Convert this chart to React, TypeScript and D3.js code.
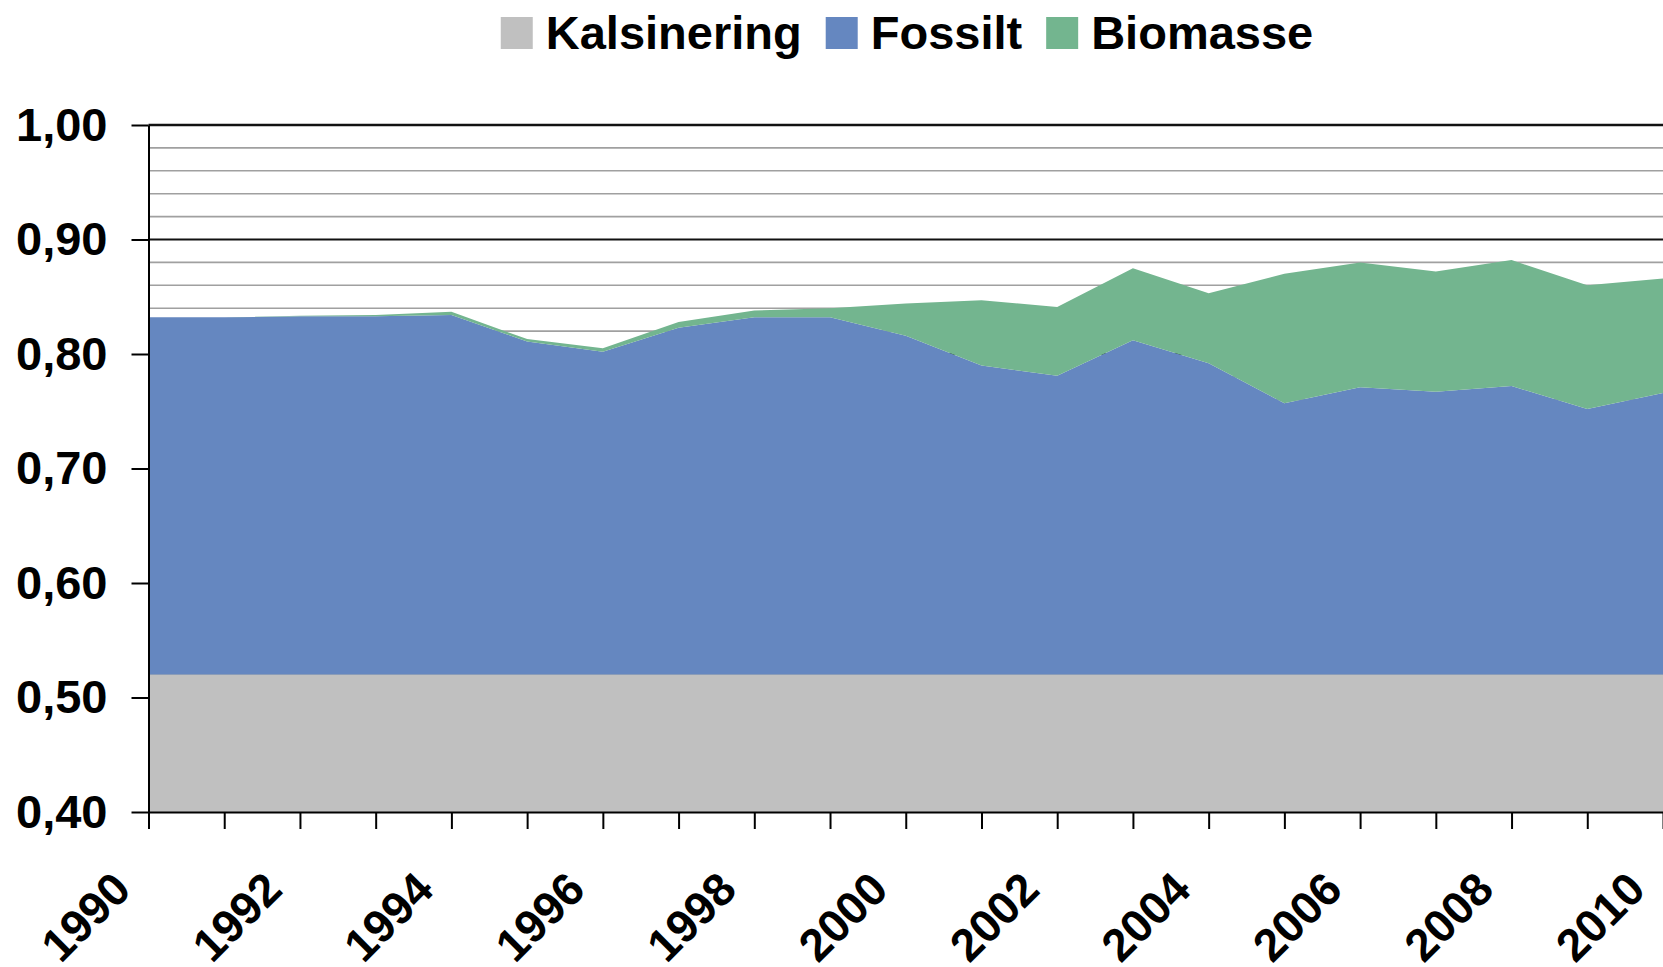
import React, { useEffect, useRef } from 'react';
import * as d3 from 'd3';

const years = [1990, 1991, 1992, 1993, 1994, 1995, 1996, 1997, 1998, 1999, 2000, 2001, 2002, 2003, 2004, 2005, 2006, 2007, 2008, 2009, 2010];
const kalsinering = [0.52, 0.52, 0.52, 0.52, 0.52, 0.52, 0.52, 0.52, 0.52, 0.52, 0.52, 0.52, 0.52, 0.52, 0.52, 0.52, 0.52, 0.52, 0.52, 0.52, 0.52];
const fossilt = [0.312, 0.312, 0.313, 0.313, 0.314, 0.291, 0.282, 0.303, 0.312, 0.312, 0.296, 0.270, 0.261, 0.292, 0.272, 0.237, 0.251, 0.247, 0.252, 0.232, 0.246];
const biomasse = [0, 0, 0.0005, 0.001, 0.003, 0.002, 0.003, 0.005, 0.006, 0.008, 0.028, 0.057, 0.060, 0.063, 0.061, 0.113, 0.109, 0.105, 0.110, 0.108, 0.100];

const seriesNames = ['Kalsinering', 'Fossilt', 'Biomasse'];
const seriesColors = ['#c0c0c0', '#6587c0', '#73b58f'];
const yTicks = [0.4, 0.5, 0.6, 0.7, 0.8, 0.9, 1.0];
const xLabelYears = [1990, 1992, 1994, 1996, 1998, 2000, 2002, 2004, 2006, 2008, 2010];

const W = 1663;
const H = 967;
const FONT = '"Liberation Sans", Arial, sans-serif';

const App = () => {
  const ref = useRef(null);

  useEffect(() => {
    drawChart();
  }, []);

  const drawChart = () => {
    const svg = d3.select(ref.current);
    svg.selectAll('*').remove();

    const left = 148.5, right = W, top = 125, bottom = 812;
    const x = d3.scaleLinear().domain([1990, 2010]).range([left, right]);
    const y = d3.scaleLinear().domain([0.4, 1.0]).range([bottom, top]);

    const table = years.map((yr, i) => ({
      year: yr,
      Kalsinering: kalsinering[i],
      Fossilt: fossilt[i],
      Biomasse: biomasse[i],
    }));
    const stacked = d3.stack().keys(seriesNames)(table);

    svg.append('clipPath').attr('id', 'plot-clip')
      .append('rect')
      .attr('x', left).attr('y', top)
      .attr('width', right - left).attr('height', bottom - top);

    // minor gridlines every 0.02
    const minor = d3.range(21, 50).map(d => d / 50).filter(v => Math.round(v * 50) % 5 !== 0);
    svg.append('g').selectAll('line').data(minor).join('line')
      .attr('x1', left).attr('x2', right)
      .attr('y1', d => y(d)).attr('y2', d => y(d))
      .attr('stroke', '#a0a0a0').attr('stroke-width', 1.6);

    // major gridlines
    svg.append('g').selectAll('line').data(yTicks.slice(1)).join('line')
      .attr('x1', left).attr('x2', right)
      .attr('y1', d => y(d)).attr('y2', d => y(d))
      .attr('stroke', '#111').attr('stroke-width', d => (d === 1.0 ? 2.6 : 2));

    const area = d3.area()
      .x(d => x(d.data.year))
      .y0(d => y(d[0]))
      .y1(d => y(d[1]));

    svg.append('g').attr('clip-path', 'url(#plot-clip)')
      .selectAll('path').data(stacked).join('path')
      .attr('d', area)
      .attr('fill', (d, i) => seriesColors[i]);

    // y axis
    const yAxis = d3.axisLeft(y)
      .tickValues(yTicks)
      .tickSizeInner(17).tickSizeOuter(0).tickPadding(24)
      .tickFormat(d => d3.format('.2f')(d).replace('.', ','));
    const gy = svg.append('g').attr('transform', `translate(${left},0)`).call(yAxis);
    gy.select('.domain').attr('stroke', '#000').attr('stroke-width', 2);
    gy.selectAll('.tick line').attr('stroke', '#000').attr('stroke-width', 2);
    gy.selectAll('.tick text')
      .attr('fill', '#000')
      .style('font-family', FONT).style('font-weight', 'bold').style('font-size', '47px');

    // x axis
    const xAxis = d3.axisBottom(x)
      .tickValues(years)
      .tickSizeInner(17).tickSizeOuter(0)
      .tickFormat(d => (xLabelYears.includes(d) ? String(d) : ''));
    const gx = svg.append('g').attr('transform', `translate(0,${bottom})`).call(xAxis);
    gx.select('.domain').attr('stroke', '#000').attr('stroke-width', 2);
    gx.selectAll('.tick line').attr('stroke', '#000').attr('stroke-width', 2);
    gx.selectAll('.tick text')
      .attr('fill', '#000')
      .attr('x', 0).attr('y', 0).attr('dy', 0)
      .attr('text-anchor', 'end')
      .attr('transform', 'translate(-16,80) rotate(-45)')
      .style('font-family', FONT).style('font-weight', 'bold').style('font-size', '46px');

    // legend
    const legend = svg.append('g');
    const items = seriesNames.map((name, i) => {
      const g = legend.append('g');
      g.append('rect').attr('width', 32).attr('height', 32).attr('y', 17).attr('fill', seriesColors[i]);
      const t = g.append('text').text(name)
        .attr('x', 45).attr('y', 49)
        .attr('fill', '#000')
        .style('font-family', FONT).style('font-weight', 'bold').style('font-size', '47px');
      const w = 45 + t.node().getComputedTextLength();
      return { g, w };
    });
    const gap = 24;
    const total = d3.sum(items, d => d.w) + gap * (items.length - 1);
    let cx = 907 - total / 2;
    items.forEach(it => {
      it.g.attr('transform', `translate(${cx},0)`);
      cx += it.w + gap;
    });
  };

  return (
    <svg ref={ref} width={W} height={H}
      style={{ position: 'absolute', left: 0, top: 0, background: '#fff', display: 'block' }} />
  );
};

export default App;
